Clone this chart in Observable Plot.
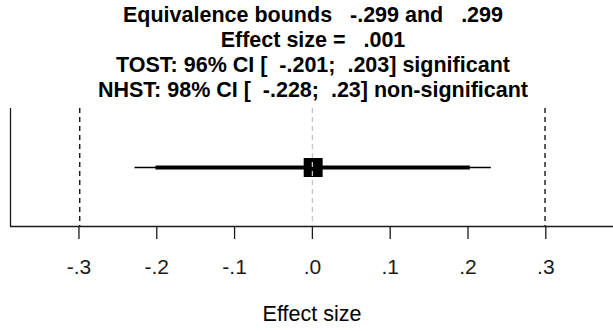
<!DOCTYPE html>
<html>
<head>
<meta charset="utf-8">
<script src="https://cdn.jsdelivr.net/npm/d3@7"></script>
<script src="https://cdn.jsdelivr.net/npm/@observablehq/plot@0.6"></script>
<style>
  html, body { margin: 0; padding: 0; background: #fff; }
  #title {
    width: 613px; height: 105px; box-sizing: border-box; padding-top: 3px; padding-left: 13px;
    text-align: center; font-family: "Liberation Sans", Arial, sans-serif;
    font-weight: bold; font-size: 21.5px; line-height: 25px; white-space: pre; color: #000;
  }
  #chart svg { display: block; }
</style>
</head>
<body>
<div id="title"></div>
<div id="chart"></div>
<script>
const titleLines = [
  "Equivalence bounds   -.299 and   .299",
  "Effect size =   .001",
  "TOST: 96% CI [  -.201;  .203] significant",
  "NHST: 98% CI [  -.228;  .23] non-significant"
];
const eqBounds = [-0.299, 0.299];
const effectSize = [0.001];
const tostCI = [{lo: -0.201, hi: 0.203}];
const nhstCI = [{lo: -0.228, hi: 0.23}];
const xTicks = [-0.3, -0.2, -0.1, 0, 0.1, 0.2, 0.3];
const xLabel = "Effect size";

document.getElementById("title").textContent = titleLines.join("\n");

const locale = d3.formatLocale({decimal: ".", thousands: ",", grouping: [3], currency: ["", ""], minus: "-"});
const fmt = d => locale.format(".1f")(d).replace(/^(-?)0\./, "$1.");
const ink = "#1a1a1a";

const chart = Plot.plot({
  width: 613,
  height: 226,
  marginTop: 3,
  marginBottom: 105,
  marginLeft: 10,
  marginRight: 0,
  style: {fontFamily: "'Liberation Sans', Arial, sans-serif", color: ink, background: "#fff"},
  x: {domain: [-0.388, 0.387], axis: null},
  y: {domain: [0, 1], axis: null},
  marks: [
    Plot.ruleX(eqBounds, {stroke: "#000", strokeWidth: 1.3, strokeDasharray: "5,4"}),
    Plot.ruleY(nhstCI, {x1: "lo", x2: "hi", y: () => 0.5, stroke: "#000", strokeWidth: 1.4}),
    Plot.ruleY(tostCI, {x1: "lo", x2: "hi", y: () => 0.5, stroke: "#000", strokeWidth: 4}),
    Plot.dot(effectSize, {x: d => d, y: () => 0.5, symbol: "square", r: 10.7, fill: "#000", stroke: null}),
    Plot.ruleX([0], {stroke: "#c4c4c4", strokeWidth: 1.3, strokeDasharray: "5,4"}),
    Plot.ruleX([-0.388], {stroke: ink, strokeWidth: 1.3}),
    Plot.ruleY([0], {stroke: ink, strokeWidth: 1.3}),
    Plot.axisX(xTicks, {
      tickSize: 13, tickPadding: 20, tickFormat: fmt, fontSize: 21,
      stroke: ink, strokeWidth: 1.3, label: null
    }),
    Plot.text([xLabel], {text: d => d, frameAnchor: "bottom", dy: 94, fontSize: 21.5, fill: "#000"})
  ]
});
document.getElementById("chart").append(chart);
</script>
</body>
</html>
